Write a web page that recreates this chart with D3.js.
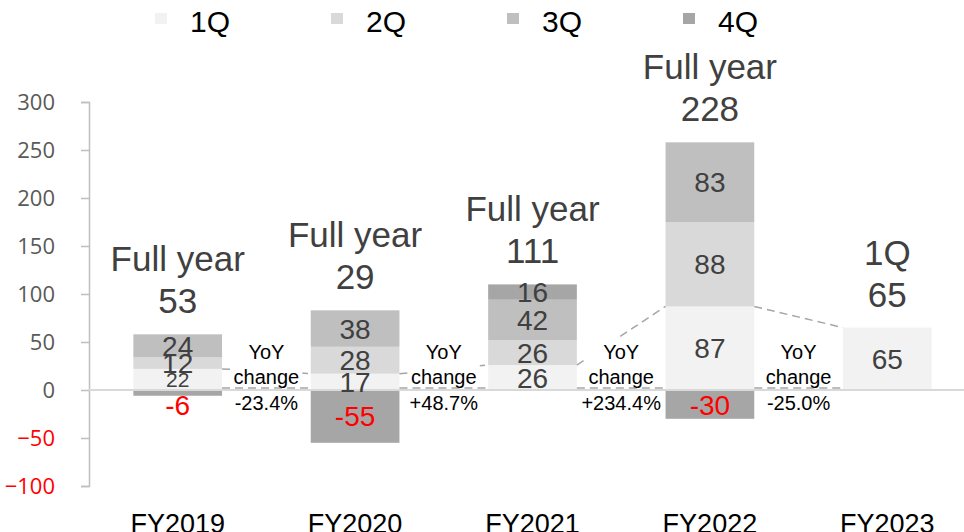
<!DOCTYPE html>
<html>
<head>
<meta charset="utf-8">
<script src="https://cdn.jsdelivr.net/npm/d3@7"></script>
<style>
  html, body { margin: 0; padding: 0; background: #fff; }
  svg { display: block; font-family: "Liberation Sans", Arial, sans-serif; }
</style>
</head>
<body>
<svg id="chart" width="964" height="532"></svg>
<script>
// Quarterly results per fiscal year, stacked by quarter
const categories = ["FY2019", "FY2020", "FY2021", "FY2022", "FY2023"];
const quarters = ["1Q", "2Q", "3Q", "4Q"];
const q1 = [22, 17, 26, 87, 65];
const q2 = [12, 28, 26, 88, null];
const q3 = [24, 38, 42, 83, null];
const q4 = [-6, -55, 16, -30, null];
const headings = ["Full year", "Full year", "Full year", "Full year", "1Q"];
const totals = [53, 29, 111, 228, 65];
const yoyChange = ["-23.4%", "+48.7%", "+234.4%", "-25.0%"];
const yTicks = [-100, -50, 0, 50, 100, 150, 200, 250, 300];

const quarterColors = ["#f2f2f2", "#d9d9d9", "#bfbfbf", "#a6a6a6"];
const labelColor = "#404040";
const negColor = "#ff0000";
// segment labels drawn in a smaller size
const smallLabels = new Set(["FY2019|1Q"]);

const svg = d3.select("#chart");

const x = d3.scaleBand()
  .domain(categories)
  .range([89, 976])
  .paddingInner(0.5)
  .paddingOuter(0.25);

const y = d3.scaleLinear().domain([-100, 300]).range([486, 102]);
const color = d3.scaleOrdinal().domain(quarters).range(quarterColors);

const series = [q1, q2, q3, q4];

// Build stacked segments: positives grow upward, negatives downward
const segments = [];
categories.forEach((cat, i) => {
  let pos = 0, neg = 0;
  quarters.forEach((q, k) => {
    const v = series[k][i];
    if (v === null || v === undefined) return;
    let y0, y1;
    if (v >= 0) { y0 = pos; y1 = pos + v; pos = y1; }
    else { y1 = neg; y0 = neg + v; neg = y0; }
    segments.push({ cat, q, v, y0, y1 });
  });
});
const posTop = categories.map((c, i) =>
  series.reduce((s, arr) => s + (arr[i] > 0 ? arr[i] : 0), 0));

// Y axis
const yAxis = d3.axisLeft(y)
  .tickValues(yTicks)
  .tickSize(8)
  .tickPadding(26)
  .tickFormat(d3.format("d"));

const gy = svg.append("g")
  .attr("transform", "translate(89,0)")
  .call(yAxis);
gy.select(".domain").attr("stroke", "#bfbfbf").attr("stroke-width", 1.5);
gy.selectAll(".tick line").attr("stroke", "#bfbfbf").attr("stroke-width", 1.5);
gy.selectAll(".tick text")
  .attr("font-family", "'Open Sans', sans-serif")
  .attr("font-size", 22)
  .attr("fill", d => d < 0 ? negColor : "#595959");

// Bars
svg.append("g").selectAll("rect")
  .data(segments)
  .join("rect")
  .attr("x", d => x(d.cat))
  .attr("width", x.bandwidth())
  .attr("y", d => y(d.y1))
  .attr("height", d => y(d.y0) - y(d.y1))
  .attr("fill", d => color(d.q));

// Zero line
svg.append("line")
  .attr("x1", 89).attr("x2", 964)
  .attr("y1", y(0)).attr("y2", y(0))
  .attr("stroke", "#d9d9d9").attr("stroke-width", 2);

// Dashed connectors between 1Q segments of consecutive years
const conn = svg.append("g")
  .attr("stroke", "#a6a6a6")
  .attr("stroke-width", 1.5)
  .attr("stroke-dasharray", "8,5")
  .attr("fill", "none");
for (let i = 0; i < categories.length - 1; i++) {
  const xa = x(categories[i]) + x.bandwidth();
  const xb = x(categories[i + 1]);
  conn.append("line")
    .attr("x1", xa).attr("y1", y(q1[i]))
    .attr("x2", xb).attr("y2", y(q1[i + 1]));
  conn.append("line")
    .attr("x1", xa).attr("y1", y(0) - 2)
    .attr("x2", xb).attr("y2", y(0) - 2);
}

// YoY change notes
const yoy = svg.append("g");
yoyChange.forEach((txt, i) => {
  const xa = x(categories[i]) + x.bandwidth();
  const xb = x(categories[i + 1]);
  const cx = (xa + xb) / 2;
  yoy.append("rect")
    .attr("x", cx - 36).attr("width", 72)
    .attr("y", y(0) - 52).attr("height", 49)
    .attr("fill", "#fff");
  const lines = ["YoY", "change", txt];
  const offs = [-31, -6, 20];
  lines.forEach((t, k) => {
    yoy.append("text")
      .attr("x", cx).attr("y", y(0) + offs[k])
      .attr("text-anchor", "middle")
      .attr("font-size", 20)
      .attr("fill", "#000")
      .text(t);
  });
});

// Segment value labels
svg.append("g").selectAll("text")
  .data(segments)
  .join("text")
  .attr("text-anchor", "middle")
  .attr("x", d => x(d.cat) + x.bandwidth() / 2)
  .attr("font-size", d => smallLabels.has(d.cat + "|" + d.q) ? 21 : 28)
  .attr("y", d => {
    const fs = smallLabels.has(d.cat + "|" + d.q) ? 21 : 28;
    let c = (y(d.y0) + y(d.y1)) / 2;
    if (d.v < 0) c = Math.max(c, y(0) + 15);
    return c + 0.358 * fs;
  })
  .attr("fill", d => d.v < 0 ? negColor : labelColor)
  .text(d => d.v);

// Year totals above each stack
const tot = svg.append("g")
  .attr("text-anchor", "middle")
  .attr("font-size", 35)
  .attr("fill", labelColor);
categories.forEach((cat, i) => {
  const cx = x(cat) + x.bandwidth() / 2;
  const base = y(posTop[i]) - 21;
  tot.append("text").attr("x", cx).attr("y", base).text(totals[i]);
  tot.append("text").attr("x", cx).attr("y", base - 42).text(headings[i]);
});

// Category labels
svg.append("g").selectAll("text")
  .data(categories)
  .join("text")
  .attr("x", d => x(d) + x.bandwidth() / 2)
  .attr("y", 533)
  .attr("text-anchor", "middle")
  .attr("font-size", 27)
  .attr("fill", "#000")
  .text(d => d);

// Legend
const legend = svg.append("g");
quarters.forEach((q, i) => {
  const lx = 155 + i * 176;
  legend.append("rect")
    .attr("x", lx).attr("y", 13)
    .attr("width", 12).attr("height", 11)
    .attr("fill", color(q));
  legend.append("text")
    .attr("x", lx + 35).attr("y", 32)
    .attr("font-size", 30)
    .attr("fill", "#000")
    .text(q);
});
</script>
</body>
</html>
